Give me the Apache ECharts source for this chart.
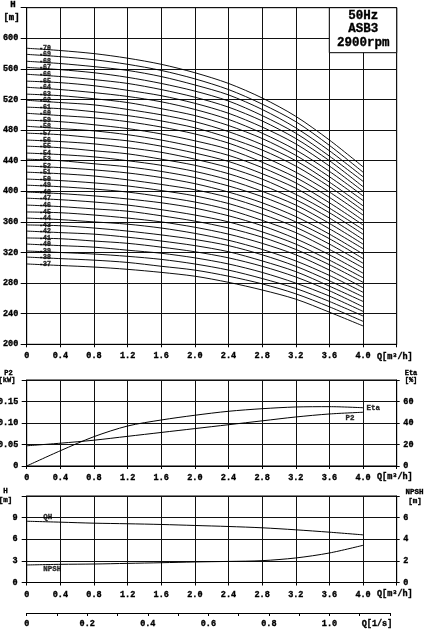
<!DOCTYPE html>
<html><head><meta charset="utf-8">
<script src="https://cdn.jsdelivr.net/npm/echarts@6/dist/echarts.min.js"></script>
<style>html,body{margin:0;padding:0;background:#fff}#c{width:432px;height:644px}</style>
</head><body><div id="c"></div>
<script>
// ---------- data ----------
const flowQ = [0, 0.4, 0.8, 1.2, 1.6, 2.0, 2.4, 2.8, 3.2, 3.6, 4.0];
const qTickLabels = ['0', '0.4', '0.8', '1.2', '1.6', '2.0', '2.4', '2.8', '3.2', '3.6', '4.0'];
const lsTickLabels = ['0', '0.2', '0.4', '0.6', '0.8', '1.0'];
const stageNumbers = [37,38,39,40,41,42,43,44,45,46,47,48,49,50,51,52,53,54,55,56,57,58,59,60,61,62,63,64,65,66,67,68,69,70];

const H37 = [305,303,301,298,294,289,281,271,259,242,224];
const H38 = [314,312,310,307,302,297,289,279,266,249,230];
const H39 = [322,320,318,315,311,305,297,286,273,256,237];
const H40 = [331,329,327,323,319,313,305,294,280,263,243];
const H41 = [339,338,335,332,327,321,313,302,288,270,249];
const H42 = [348,346,344,340,335,329,321,309,295,276,256];
const H43 = [356,355,352,348,343,337,329,317,302,283,262];
const H44 = [365,363,360,357,352,345,336,324,309,290,268];
const H45 = [373,372,369,365,360,353,344,332,317,297,274];
const H46 = [382,380,377,374,368,361,352,340,324,304,281];
const H47 = [391,389,386,382,376,369,360,347,331,310,287];
const H48 = [399,397,394,390,385,378,368,355,338,317,293];
const H49 = [408,406,403,399,393,386,376,362,346,324,300];
const H50 = [416,414,411,407,401,394,384,370,353,331,306];
const H51 = [425,423,420,415,409,402,392,378,360,338,312];
const H52 = [433,431,428,424,418,410,399,385,367,344,318];
const H53 = [442,440,436,432,426,418,407,393,375,351,325];
const H54 = [450,448,445,440,434,426,415,400,382,358,331];
const H55 = [459,457,453,449,442,434,423,408,389,365,337];
const H56 = [467,465,462,457,451,442,431,416,396,372,344];
const H57 = [476,474,470,466,459,450,439,423,404,378,350];
const H58 = [485,482,479,474,467,458,447,431,411,385,356];
const H59 = [493,491,487,482,475,466,455,438,418,392,362];
const H60 = [502,499,496,491,484,475,463,446,425,399,369];
const H61 = [510,508,504,499,492,483,470,454,433,406,375];
const H62 = [519,516,513,507,500,491,478,461,440,412,381];
const H63 = [527,525,521,516,508,499,486,469,447,419,388];
const H64 = [536,533,529,524,517,507,494,476,454,426,394];
const H65 = [544,542,538,532,525,515,502,484,462,433,400];
const H66 = [553,550,546,541,533,523,510,492,469,440,406];
const H67 = [562,559,555,549,541,531,518,499,476,446,413];
const H68 = [570,567,563,558,550,539,526,507,483,453,419];
const H69 = [579,576,572,566,558,547,533,514,491,460,425];
const H70 = [587,584,580,574,566,555,541,522,498,467,432];
const headCurves = [H37,H38,H39,H40,H41,H42,H43,H44,H45,H46,H47,H48,H49,H50,H51,H52,H53,H54,H55,H56,H57,H58,H59,H60,H61,H62,H63,H64,H65,H66,H67,H68,H69,H70];

const p2Values   = [0.047, 0.053, 0.060, 0.069, 0.078, 0.087, 0.096, 0.105, 0.114, 0.121, 0.125];
const etaValues  = [0, 14.2, 27.3, 37.2, 42.8, 47.2, 50.9, 53.3, 54.9, 55.2, 54.2];
const qhValues   = [8.5, 8.37, 8.23, 8.15, 8.05, 7.91, 7.77, 7.59, 7.31, 6.98, 6.61];
const npshValues = [1.62, 1.68, 1.71, 1.77, 1.83, 1.90, 1.95, 2.02, 2.27, 2.73, 3.44];

// ---------- layout / style ----------
const FONT = '"Liberation Mono", "DejaVu Sans Mono", monospace';
const LEFT = 26.7, RIGHT = 35.3;
const PX_PER_Q = (432 - LEFT - RIGHT) / 4.4;
const BLACK = '#000';
const CLEAR = 'rgba(0,0,0,0)';
const HEAVY = { textBorderColor: '#000', textBorderWidth: 0.35 };

const labelStyle = (extra) => Object.assign({
  color: BLACK, fontFamily: FONT, fontWeight: 'bold', fontSize: 8.5
}, HEAVY, extra || {});

function qAxis(gridIndex) {
  return {
    type: 'value', gridIndex, min: 0, max: 4.4, interval: 0.4,
    axisLine: { show: true, lineStyle: { color: BLACK, width: 1 } },
    axisTick: { show: true, length: 3, lineStyle: { color: BLACK } },
    splitLine: { show: true, lineStyle: { color: '#111', width: 1 } },
    axisLabel: labelStyle({
      margin: 7.5, showMaxLabel: true, showMinLabel: true,
      formatter: v => v > 4.2 ? '' : qTickLabels[Math.round(v / 0.4)]
    })
  };
}
function yAx(gridIndex, min, max, interval, pos, fmt, split, tickLen, margin) {
  return {
    type: 'value', gridIndex, min, max, interval, position: pos,
    axisLine: { show: true, lineStyle: { color: BLACK, width: 1 } },
    axisTick: { show: true, length: tickLen, lineStyle: { color: BLACK } },
    splitLine: { show: split, lineStyle: { color: '#111', width: 1 } },
    axisLabel: labelStyle({ margin, formatter: fmt, showMaxLabel: true })
  };
}
function textLabelSeries(xIdx, yIdx, point, text, position, distance, offset, size) {
  return {
    type: 'scatter', xAxisIndex: xIdx, yAxisIndex: yIdx, silent: true, symbolSize: 1,
    itemStyle: { color: CLEAR }, z: 5,
    data: [{ value: point }],
    label: Object.assign({ show: true, position, distance, offset, formatter: text,
      color: BLACK, fontFamily: FONT, fontWeight: 'bold', fontSize: size }, HEAVY)
  };
}

const series = [];
headCurves.forEach((curve) => {
  series.push({
    type: 'line', xAxisIndex: 0, yAxisIndex: 0, silent: true,
    data: flowQ.map((q, j) => [q, curve[j]]),
    smooth: 0.3, showSymbol: false, symbol: 'none',
    lineStyle: { color: BLACK, width: 0.95 }, z: 3
  });
});
series.push({
  type: 'scatter', xAxisIndex: 0, yAxisIndex: 0, silent: true, symbolSize: 1,
  itemStyle: { color: CLEAR },
  data: stageNumbers.map((s, i) => ({ value: [flowQ[0], headCurves[i][0]], name: '-' + s })),
  label: { show: true, position: 'right', distance: 12, formatter: p => p.name,
    color: BLACK, fontFamily: FONT, fontWeight: 'bold', fontSize: 6.5,
    textBorderColor: '#000', textBorderWidth: 0.4 },
  labelLayout: { hideOverlap: false },
  z: 4
});
// middle panel
series.push({
  type: 'line', xAxisIndex: 1, yAxisIndex: 1, silent: true,
  data: flowQ.map((q, j) => [q, p2Values[j]]), smooth: 0.3, showSymbol: false, symbol: 'none',
  lineStyle: { color: BLACK, width: 1 }
});
series.push({
  type: 'line', xAxisIndex: 1, yAxisIndex: 2, silent: true,
  data: flowQ.map((q, j) => [q, etaValues[j]]), smooth: 0.3, showSymbol: false, symbol: 'none',
  lineStyle: { color: BLACK, width: 1 }
});
const last = flowQ.length - 1;
series.push(textLabelSeries(1, 1, [flowQ[last], p2Values[last]], 'P2', 'left', 8, [0, 6], 7.5));
series.push(textLabelSeries(1, 2, [flowQ[last], etaValues[last]], 'Eta', 'right', 3, [0, 0], 7.5));
// bottom panel
series.push({
  type: 'line', xAxisIndex: 2, yAxisIndex: 3, silent: true,
  data: flowQ.map((q, j) => [q, qhValues[j]]), smooth: 0.3, showSymbol: false, symbol: 'none',
  lineStyle: { color: BLACK, width: 1 }
});
series.push({
  type: 'line', xAxisIndex: 2, yAxisIndex: 4, silent: true,
  data: flowQ.map((q, j) => [q, npshValues[j]]), smooth: 0.3, showSymbol: false, symbol: 'none',
  lineStyle: { color: BLACK, width: 1 }
});
series.push(textLabelSeries(2, 3, [flowQ[0], qhValues[0]], 'QH', 'right', 16, [0, -4], 7.5));
series.push(textLabelSeries(2, 4, [flowQ[0], npshValues[0]], 'NPSH', 'right', 16, [0, 4], 7.5));

function txt(text, x, y, size, align) {
  return { type: 'text', x, y, z: 110, silent: true,
    style: { text, fill: BLACK, font: 'bold ' + size + 'px ' + FONT,
      stroke: '#000', lineWidth: 0.35,
      align: align || 'center', verticalAlign: 'middle',
      textAlign: align || 'center', textVerticalAlign: 'middle' } };
}

const gridBase = { left: LEFT, right: RIGHT, show: true, borderColor: BLACK, borderWidth: 1,
  containLabel: false, outerBoundsMode: 'none' };

const option = {
  animation: false,
  backgroundColor: '#fff',
  grid: [
    Object.assign({}, gridBase, { top: 7.7, height: 336.6 }),
    Object.assign({}, gridBase, { top: 380, height: 86 }),
    Object.assign({}, gridBase, { top: 496, height: 86.5 }),
    { left: LEFT, width: 1.2 * 3.6 * PX_PER_Q, top: 612, height: 1, show: false,
      containLabel: false, outerBoundsMode: 'none' }
  ],
  xAxis: [
    qAxis(0), qAxis(1), qAxis(2),
    {
      type: 'value', gridIndex: 3, min: 0, max: 1.2, interval: 0.1,
      axisLine: { show: true, lineStyle: { color: BLACK, width: 1 } },
      axisTick: { show: true, length: 3, lineStyle: { color: BLACK } },
      splitLine: { show: false },
      axisLabel: labelStyle({ margin: 6, showMaxLabel: true,
        formatter: v => { const k = Math.round(v * 10); return (k % 2 === 0 && k <= 10) ? lsTickLabels[k / 2] : ''; } })
    }
  ],
  yAxis: [
    yAx(0, 200, 640, 40, 'left', v => v >= 640 ? '' : String(v), true, 6, 8.4),
    yAx(1, 0, 0.2, 0.05, 'left', v => v === 0 ? '0' : (v > 0.19 ? '' : v.toFixed(2)), true, 5, 8.4),
    yAx(1, 0, 80, 20, 'right', v => v >= 80 ? '' : String(v), false, 3, 6.6),
    yAx(2, 0, 12, 3, 'left', v => v >= 12 ? '' : String(v), true, 5, 9),
    yAx(2, 0, 8, 2, 'right', v => v >= 8 ? '' : String(v), false, 3, 6.6),
    { type: 'value', gridIndex: 3, show: false, min: 0, max: 1 }
  ],
  graphic: [
    { type: 'rect', z: 100, silent: true,
      shape: { x: 329.3, y: 7.7, width: 67.4, height: 45 },
      style: { fill: '#fff', stroke: BLACK, lineWidth: 1 } },
    txt('50Hz', 363.3, 15.7, 12.5),
    txt('ASB3', 363.3, 29.3, 12.5),
    txt('2900rpm', 363.3, 43.3, 12.5),
    txt('H', 13, 4.8, 9),
    txt('[m]', 11.5, 18, 9),
    txt('P2', 8.5, 373, 7),
    txt('[kW]', 7, 380, 7),
    txt('Eta', 411, 373, 7),
    txt('[%]', 411, 380, 7),
    txt('H', 5.5, 491, 7.5),
    txt('[m]', 5.5, 500, 7.5),
    txt('NPSH', 414.5, 491.7, 7.5),
    txt('[m]', 415, 501, 7.5),
    txt('Q[m³/h]', 377, 356.7, 8.5, 'left'),
    txt('Q[m³/h]', 377, 477, 8.5, 'left'),
    txt('Q[m³/h]', 377, 594, 8.5, 'left'),
    txt('Q[1/s]', 377, 623.5, 8.5)
  ],
  series
};

const chart = echarts.init(document.getElementById('c'), null, { renderer: 'canvas' });
chart.setOption(option);
</script>
</body></html>
